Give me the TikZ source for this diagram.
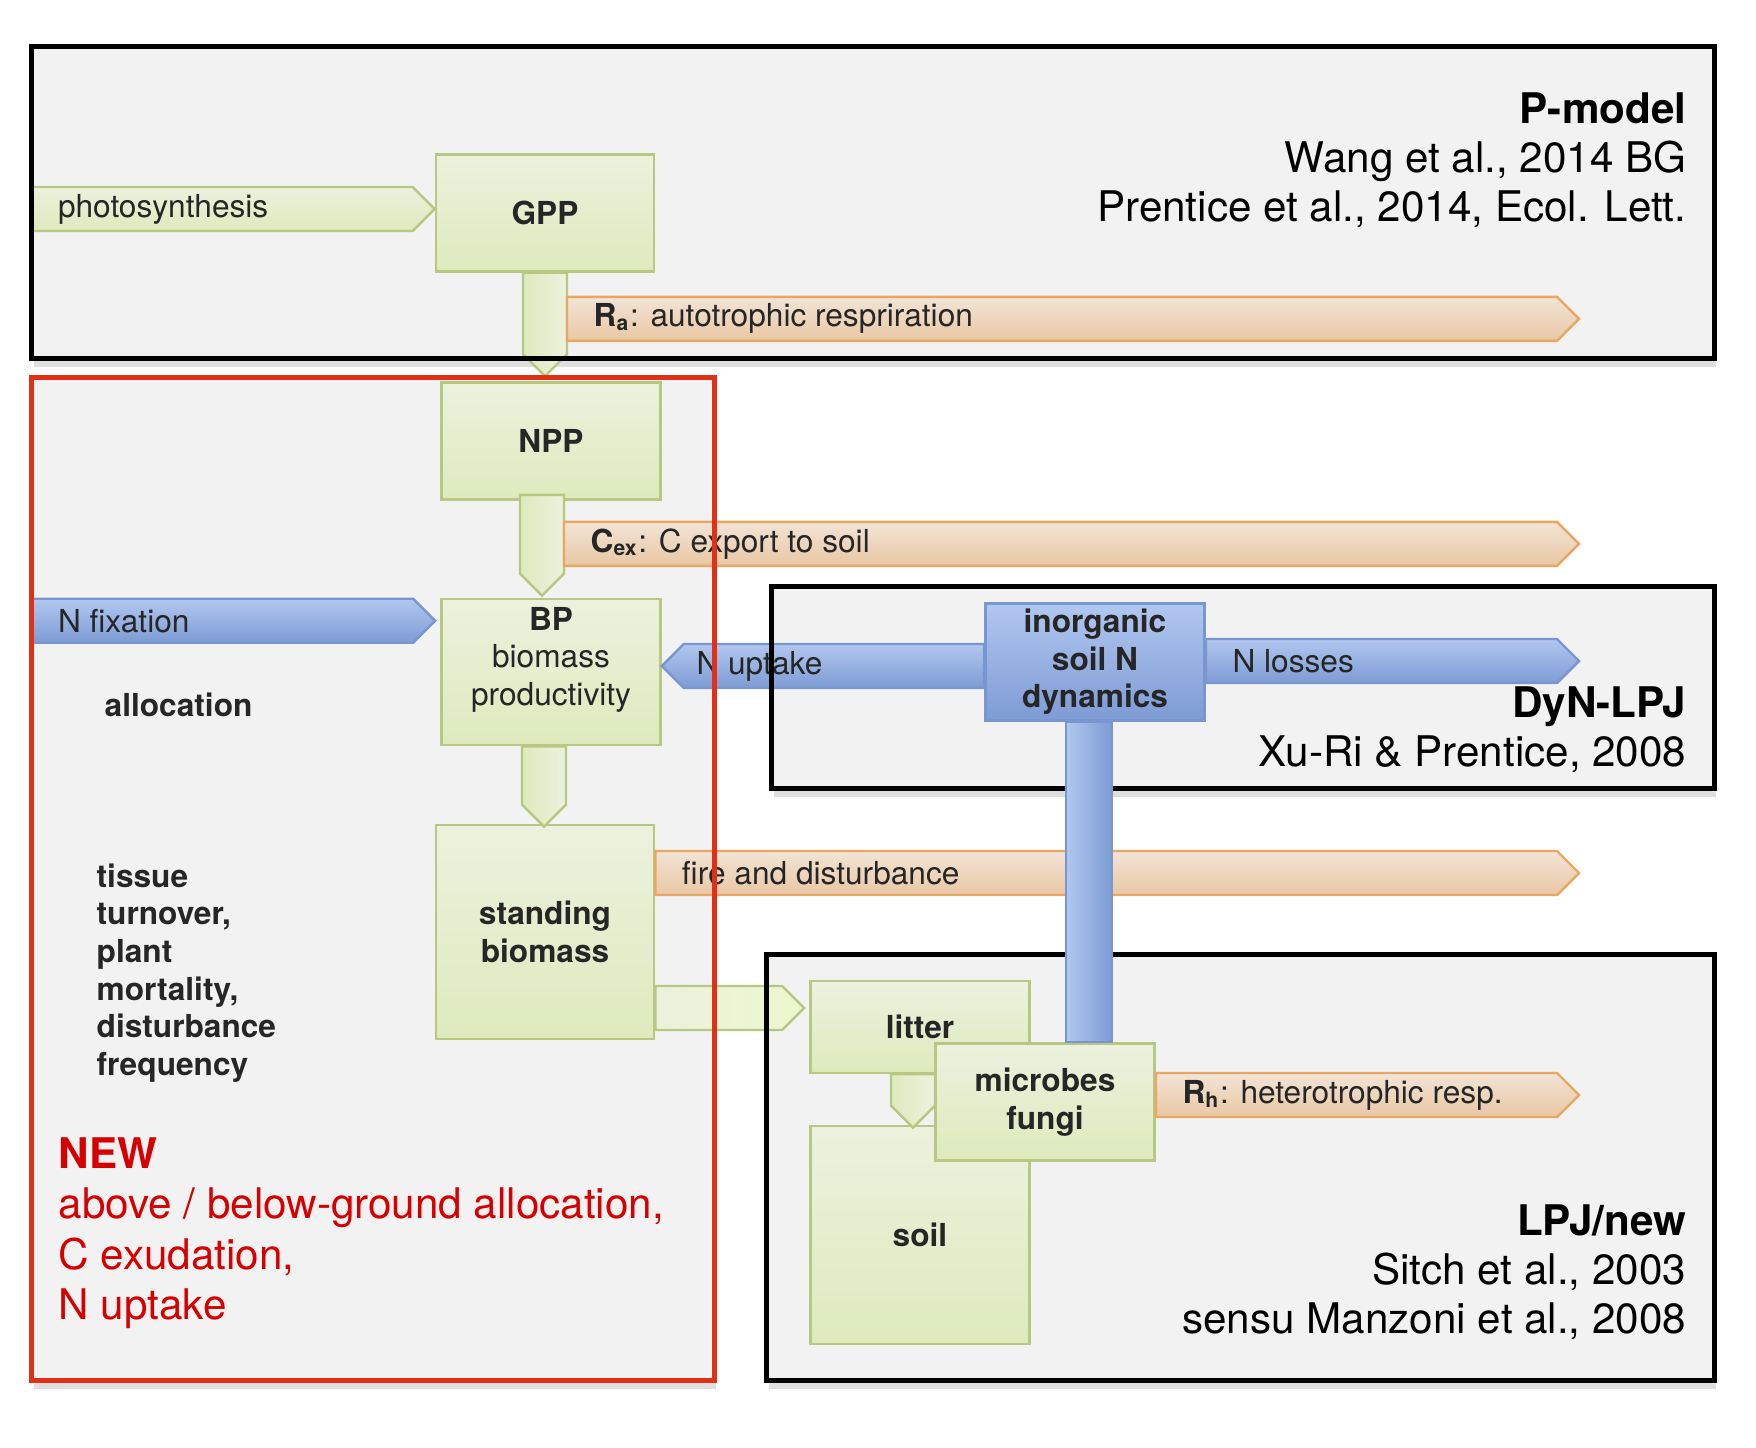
\documentclass[tikz,border=0pt]{standalone}
\usepackage{fontspec}
\setmainfont{TeX Gyre Heros}
\usetikzlibrary{calc, fit, shadows}

\definecolor{panelgrey}{RGB}{242,242,242}
\definecolor{stocktop}{RGB}{236,241,222}
\definecolor{stockbot}{RGB}{222,234,189}
\definecolor{stockline}{RGB}{184,200,130}
\definecolor{litebright}{RGB}{236,248,204}
\definecolor{resptop}{RGB}{242,228,214}
\definecolor{respbot}{RGB}{233,199,164}
\definecolor{respline}{RGB}{232,168,100}
\definecolor{ntop}{RGB}{178,199,240}
\definecolor{nbot}{RGB}{125,155,212}
\definecolor{nline}{RGB}{122,150,206}
\definecolor{inktext}{RGB}{38,38,38}
\definecolor{newred}{RGB}{214,0,0}
\definecolor{framered}{RGB}{226,48,22}

% block arrows: style, tail, tip (, label)
\newcommand{\flowE}[4]{%
  \path[#1] ($(#2)+(0,-22)$) -- ($(#3)+(-22,-22)$) -- (#3) -- ($(#3)+(-22,22)$) -- ($(#2)+(0,22)$) -- cycle;
  \node[flowtext, anchor=west] at ($(#2)+(26,0)$) {#4};}
\newcommand{\flowW}[4]{%
  \path[#1] ($(#2)+(0,-22)$) -- ($(#3)+(22,-22)$) -- (#3) -- ($(#3)+(22,22)$) -- ($(#2)+(0,22)$) -- cycle;
  \node[flowtext, anchor=west] at ($(#3)+(34,0)$) {#4};}
\newcommand{\flowS}[3]{%
  \path[#1] ($(#2)+(-22,0)$) -- ($(#3)+(-22,-22)$) -- (#3) -- ($(#3)+(22,-22)$) -- ($(#2)+(22,0)$) -- cycle;}

\begin{document}
\begin{tikzpicture}[x=0.01cm, y=-0.01cm,
  panel/.style={fill=panelgrey, inner sep=0pt, drop shadow={opacity=0.25, shadow xshift=0.5pt, shadow yshift=-2.5pt}},
  frameline/.style={draw=black, line width=1.3pt},
  stock/.style={draw=stockline, line width=0.7pt, top color=stocktop, bottom color=stockbot,
    text=inktext, font=\bfseries\fontsize{9}{10.7}\selectfont, align=center, inner sep=0pt, minimum width=2.19cm},
  nstock/.style={stock, draw=nline, top color=ntop, bottom color=nbot},
  cflow/.style={draw=stockline, line width=0.7pt, top color=stocktop, bottom color=stockbot},
  cdown/.style={draw=stockline, line width=0.7pt, left color=stockbot, right color=stocktop},
  rflow/.style={draw=respline, line width=0.7pt, top color=resptop, bottom color=respbot},
  nflow/.style={draw=nline, line width=0.7pt, top color=ntop, bottom color=nbot},
  flowtext/.style={text=inktext, font=\fontsize{9}{10.7}\selectfont, inner sep=0pt},
  note/.style={text=inktext, font=\bfseries\fontsize{9}{10.7}\selectfont, align=left, inner sep=0pt},
  cite/.style={align=right, anchor=north east, inner sep=0pt, font=\fontsize{12}{14}\selectfont},
  newtext/.style={text=newred, align=left, anchor=north west, inner sep=0pt, font=\fontsize{12}{14.3}\selectfont},
]
\useasboundingbox (0,0) rectangle (1756,1448);

% model frames
\node[panel, fit={(32,47) (1714,358)}] (pmodel) {};
\node[panel, fit={(32,378) (714,1380)}] (redframe) {};
\node[panel, fit={(772,587) (1714,788)}] (dynlpj) {};
\node[panel, fit={(767,955) (1714,1380)}] (lpjnew) {};

% pools
\node[stock, minimum width=2.18cm, minimum height=1.17cm] (gpp) at (545,213) {GPP};
\node[stock, minimum height=1.17cm] (npp) at (551,441) {NPP};
\node[stock, minimum height=1.46cm] (bp) at (551,672) {BP\\\mdseries biomass\\\mdseries productivity\\[-1.7pt]};
\node[stock, minimum width=2.18cm, minimum height=2.14cm] (standing) at (545,932) {standing\\biomass};
\node[stock, minimum height=0.92cm] (litter) at (920,1027) {litter};
\node[stock, minimum height=2.18cm] (soil) at (920,1235) {soil};
\node[stock, minimum height=1.17cm] (micro) at (1045,1102) {microbes\\fungi};
\node[nstock, minimum height=1.17cm] (inorg) at (1095,662) {inorganic\\soil N\\dynamics};

% flow end points
\coordinate (sink) at (1579,0);
\coordinate (photo0) at ($(pmodel.west |- gpp.west)+(0,-4)$);
\coordinate (photo1) at (gpp.west |- photo0);
\coordinate (gpp1) at ($(gpp.south |- npp.north)+(0,-5)$);
\coordinate (ra0) at ($(gpp.south)+(22,46)$);
\coordinate (ra1) at (sink |- ra0);
\coordinate (npp0) at ($(npp.south)+(-9,-6)$);
\coordinate (npp1) at ($(npp0 |- bp.north)+(0,-2)$);
\coordinate (cex0) at ($(npp0)+(22,49)$);
\coordinate (cex1) at (sink |- cex0);
\coordinate (nfix1) at ($(bp.north west)+(-5,23)$);
\coordinate (nfix0) at (redframe.west |- nfix1);
\coordinate (nup0) at ($(inorg.west)+(0,4)$);
\coordinate (nup1) at (bp.east |- nup0);
\coordinate (nloss0) at ($(inorg.east)+(0,-1)$);
\coordinate (nloss1) at (sink |- nloss0);
\coordinate (bp0) at ($(bp.south)+(-7,0)$);
\coordinate (bp1) at ($(bp0 |- standing.north)+(0,3)$);
\coordinate (fire0) at ($(standing.east)+(0,-59)$);
\coordinate (fire1) at (sink |- fire0);
\coordinate (lit0) at ($(standing.east)+(0,76)$);
\coordinate (lit1) at ($(litter.west |- lit0)+(-5,0)$);
\coordinate (lit2) at ($(litter.south)+(-7,0)$);
\coordinate (lit3) at ($(lit2 |- soil.north)+(0,3)$);
\coordinate (rh0) at ($(micro.east)+(0,-7)$);
\coordinate (rh1) at (sink |- rh0);

% flows
\flowE{cflow}{photo0}{photo1}{photosynthesis}
\flowS{cdown}{gpp.south}{gpp1}
\flowE{rflow}{ra0}{ra1}{\textbf{R\textsubscript{a}}: autotrophic respriration}
\flowS{cdown}{npp0}{npp1}
\flowE{rflow}{cex0}{cex1}{\textbf{C\textsubscript{ex}}: C export to soil}
\flowE{nflow}{nfix0}{nfix1}{N fixation}
\flowW{nflow}{nup0}{nup1}{N uptake}
\flowE{nflow}{nloss0}{nloss1}{N losses}
\flowS{cdown}{bp0}{bp1}
\flowE{rflow}{fire0}{fire1}{fire and disturbance}
\flowE{cflow, left color=stocktop, right color=litebright}{lit0}{lit1}{}
\flowS{cdown}{lit2}{lit3}
\flowE{rflow}{rh0}{rh1}{\textbf{R\textsubscript{h}}: heterotrophic resp.}

% process notes
\node[note, anchor=base west] (alloc) at (104,716) {allocation};
\node[note, anchor=north west] (turnover) at (96,863) {tissue\\turnover,\\plant\\mortality,\\disturbance\\frequency};
\node[newtext] (newnote) at (58,1137) {\textbf{NEW}\\above / below-ground allocation,\\C exudation,\\N uptake};

% model references
\node[cite] (pcite) at (1687,92) {\textbf{P-model}\\Wang et al., 2014 BG\\Prentice et al., 2014, Ecol. Lett.};
\node[cite] (dcite) at (1687,686) {\textbf{DyN-LPJ}\\Xu-Ri \& Prentice, 2008};
\node[cite] (lcite) at (1687,1204) {\textbf{LPJ/new}\\Sitch et al., 2003\\sensu Manzoni et al., 2008};

% frame borders
\draw[frameline] (pmodel.south west) rectangle (pmodel.north east);
\draw[frameline, draw=framered] (redframe.south west) rectangle (redframe.north east);
\draw[frameline] (dynlpj.south west) rectangle (dynlpj.north east);
\draw[frameline] (lpjnew.south west) rectangle (lpjnew.north east);

% soil N link
\path[draw=nline, line width=0.7pt, left color=ntop, right color=nbot]
  ($(inorg.south)+(-29,0)$) rectangle ($(inorg.south |- micro.north)+(17,0)$);
\end{tikzpicture}
\end{document}
